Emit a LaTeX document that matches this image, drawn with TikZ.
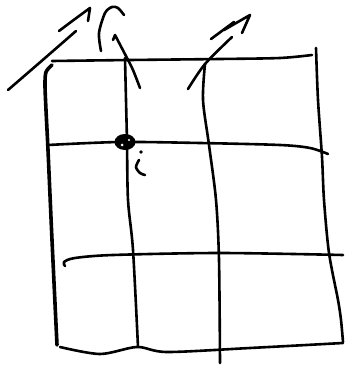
\documentclass[tikz,border=0pt]{standalone}
\usepackage{tikz}

\begin{document}
\begin{tikzpicture}[x=1pt,y=-1pt,line width=2.6pt,line cap=round,line join=round]

\useasboundingbox (0,0) rectangle (345,366);

% Horizontal lines
\draw plot[smooth] coordinates {
(52,61) (130,60) (220,59) (280,58) (312,55)};
\draw plot[smooth] coordinates {
(48,145) (120,142) (200,143) (280,145) (310,148) (328,154)};
\draw plot[smooth] coordinates {
(65,266) (64,262) (75,258) (113,255) (220,253) (343,255)};
\draw plot[smooth] coordinates {
(60,347) (100,354) (137,347) (167,352) (250,348) (343,343)};

% Vertical lines
\draw[line width=3.6pt] plot[smooth] coordinates {
(52,65) (46,72) (45,85) (46,110) (48,150) (52,240) (57,345)};
\draw plot[smooth] coordinates {
(125,58) (126,100) (127,142) (128,200) (133,250) (138,347)};
\draw plot[smooth] coordinates {
(205,64) (203,100) (209,145) (216,200) (219,260) (220,363)};
\draw plot[smooth] coordinates {
(316,48) (318,100) (322,157) (324,200) (329,253) (338,300) (341,320) (343,342)};

% Arrows
\draw plot[smooth] coordinates {
(8,90) (45,58) (76,31)};
\draw plot[smooth] coordinates {
(59,31) (75,19) (90,8)} -- (88,21);

\draw plot[smooth] coordinates {
(140,88) (133,70) (127,58) (115,35)} -- (113,40);
\draw plot[smooth] coordinates {
(101,51) (99,33) (105,13) (112,7) (118,8) (124,15)};

\draw plot[smooth] coordinates {
(188,89) (205,64) (232,37)};
\draw (211,39) -- (234,22);
\draw (224,30) -- (250,15) -- (242,33);

% Point
\fill (125,142) ellipse [x radius=10.5,y radius=8];
\fill[white] (122,145) circle [radius=1.5];
\fill[white] (129,140) circle [radius=1.2];
\fill (141,152) circle [radius=1.8];
\draw plot[smooth] coordinates {
(139,160) (136,167) (140,173) (145,175)};

\end{tikzpicture}
\end{document}
